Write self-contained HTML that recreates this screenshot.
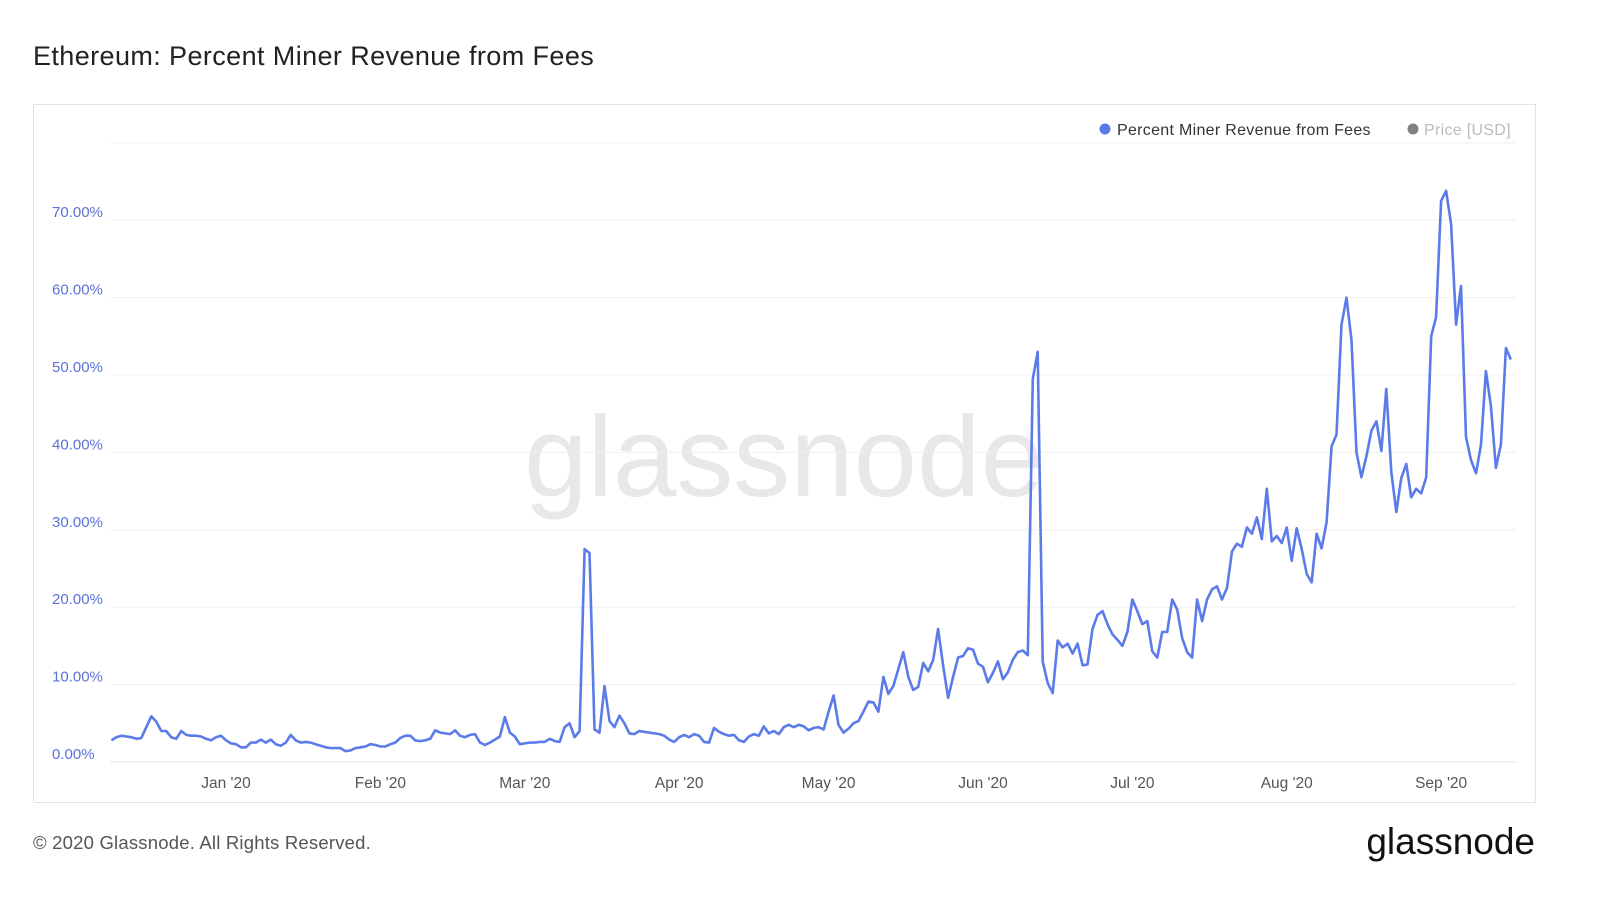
<!DOCTYPE html>
<html><head><meta charset="utf-8"><style>
body{margin:0;background:#fff;font-family:"Liberation Sans",sans-serif;}
#wrap{position:relative;width:1600px;height:900px;overflow:hidden;}
</style></head><body>
<div id="wrap">
<svg id="svg" width="1600" height="900" xmlns="http://www.w3.org/2000/svg">
<text x="33" y="65" font-size="27" letter-spacing="0.4" fill="#222">Ethereum: Percent Miner Revenue from Fees</text>
<rect x="33.5" y="104.5" width="1502" height="698" fill="none" stroke="#e3e3e3"/>
<text x="784" y="496" font-size="114" fill="#e8e8e8" text-anchor="middle">glassnode</text>
<g id="grid"></g><g id="ylab"></g><g id="xlab"></g>
<path id="line" fill="none" stroke="#5b7be9" stroke-width="2.6" stroke-linejoin="round"/>
<g>
<circle cx="1105" cy="129" r="5.5" fill="#5b7be9"/>
<text x="1117" y="135" font-size="16" letter-spacing="0.3" fill="#333">Percent Miner Revenue from Fees</text>
<circle cx="1413" cy="129" r="5.5" fill="#808080"/>
<text x="1424" y="135" font-size="16" letter-spacing="0.3" fill="#bbb">Price [USD]</text>
</g>
<text x="33" y="849" font-size="18.5" letter-spacing="0.2" fill="#555">© 2020 Glassnode. All Rights Reserved.</text>
<text x="1535" y="854" font-size="37" fill="#111" text-anchor="end">glassnode</text>
</svg>
</div>
<script>
const yTicks=[0,10,20,30,40,50,60,70];
const yTickLabels=["0.00%","10.00%","20.00%","30.00%","40.00%","50.00%","60.00%","70.00%"];
const xTickDays=[23,54,83,114,144,175,205,236,267];
const xTickLabels=["Jan '20","Feb '20","Mar '20","Apr '20","May '20","Jun '20","Jul '20","Aug '20","Sep '20"];
const decVals=[2.8,3.2,3.4,3.3,3.2,3.0,3.1,4.5,5.9,5.2,4.0,4.0,3.2,3.0,4.0,3.5,3.4,3.4,3.3,3.0,2.8,3.2,3.4];
const janVals=[2.8,2.4,2.3,1.9,1.9,2.5,2.5,2.9,2.5,2.9,2.3,2.1,2.5,3.5,2.8,2.5,2.6,2.5,2.3,2.1,1.9,1.8,1.8,1.8,1.4,1.5,1.8,1.9,2.0,2.3,2.2];
const febVals=[2.0,2.0,2.3,2.5,3.1,3.4,3.4,2.8,2.7,2.8,3.0,4.1,3.8,3.7,3.6,4.1,3.4,3.2,3.5,3.6,2.5,2.2,2.5,2.9,3.3,5.8,3.8,3.3,2.3];
const marVals=[2.4,2.5,2.5,2.6,2.6,3.0,2.7,2.6,4.5,5.0,3.2,4.0,27.5,27.0,4.2,3.8,9.8,5.3,4.5,6.0,5.0,3.7,3.6,4.0,3.9,3.8,3.7,3.6,3.4,2.9,2.6];
const aprVals=[3.2,3.5,3.2,3.6,3.4,2.6,2.5,4.4,3.9,3.6,3.4,3.5,2.8,2.6,3.3,3.6,3.4,4.6,3.7,4.0,3.6,4.5,4.8,4.5,4.8,4.6,4.1,4.4,4.5,4.2];
const mayVals=[6.5,8.6,4.8,3.8,4.3,5.0,5.3,6.5,7.8,7.7,6.5,11.0,8.8,9.8,12.0,14.2,11.0,9.3,9.7,12.8,11.7,13.2,17.2,12.5,8.3,11.0,13.5,13.7,14.7,14.5,12.7];
const junVals=[12.3,10.3,11.5,13.0,10.7,11.6,13.2,14.2,14.4,13.8,49.5,53.0,13.0,10.2,8.9,15.7,14.8,15.3,14.0,15.3,12.5,12.6,17.2,19.0,19.5,17.8,16.5,15.8,15.0,16.8];
const julVals=[21.0,19.5,17.8,18.2,14.3,13.5,16.8,16.8,21.0,19.7,16.0,14.2,13.5,21.0,18.2,21.0,22.3,22.7,21.0,22.5,27.2,28.2,27.8,30.3,29.5,31.6,28.8,35.3,28.5,29.2,28.3];
const augVals=[30.3,26.0,30.2,27.5,24.3,23.2,29.5,27.6,31.0,40.8,42.3,56.5,60.0,54.5,40.0,36.8,39.5,42.8,44.0,40.2,48.2,37.5,32.3,36.7,38.5,34.2,35.3,34.7,36.8,55.0,57.5];
const sepVals=[72.5,73.8,69.5,56.5,61.5,42.0,39.0,37.3,41.0,50.5,46.0,38.0,41.0,53.5,52.0];
const series=[].concat(decVals,janVals,febVals,marVals,aprVals,mayVals,junVals,julVals,augVals,sepVals);
const NS="http://www.w3.org/2000/svg";
const x0=226,pxDay=4.98,y0=762,pxPct=7.74;
function xs(d){return x0+(d-23)*pxDay;}
function ys(v){return y0-v*pxPct;}
const grid=document.getElementById('grid'),ylab=document.getElementById('ylab'),xlab=document.getElementById('xlab');
[0,10,20,30,40,50,60,70,80].forEach(v=>{
 const l=document.createElementNS(NS,'line');
 l.setAttribute('x1',110);l.setAttribute('x2',1516);l.setAttribute('y1',ys(v));l.setAttribute('y2',ys(v));
 l.setAttribute('stroke',v===0?'#e6e6e6':'#f0f0f0');
 
 
 grid.appendChild(l);});
yTicks.forEach((v,i)=>{
 const t=document.createElementNS(NS,'text');
 t.setAttribute('x',52);t.setAttribute('y',ys(v)-3);t.setAttribute('font-size','15');t.setAttribute('fill','#5a72d8');
 t.textContent=yTickLabels[i];
 
 
 ylab.appendChild(t);});
xTickDays.forEach((d,i)=>{
 const t=document.createElementNS(NS,'text');
 t.setAttribute('x',xs(d));t.setAttribute('y',788);t.setAttribute('font-size','15.5');t.setAttribute('fill','#555');t.setAttribute('text-anchor','middle');
 t.textContent=xTickLabels[i];
 
 
 xlab.appendChild(t);});
document.getElementById('line').setAttribute('d',series.map((v,i)=>(i?'L':'M')+xs(i).toFixed(1)+','+ys(v).toFixed(1)).join(''));
</script>
</body></html>
